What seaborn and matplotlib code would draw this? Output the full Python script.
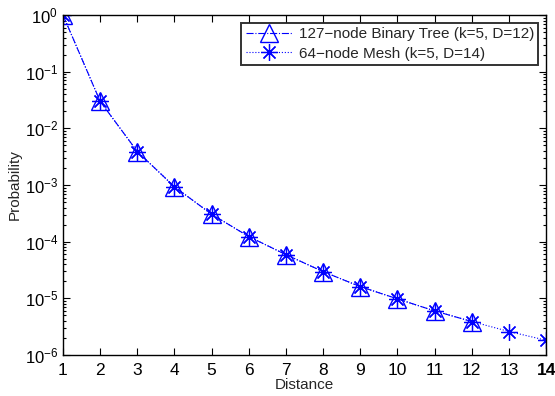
import numpy as np
import matplotlib
matplotlib.use("Agg")
import matplotlib.pyplot as plt
import seaborn as sns
import pandas as pd
from matplotlib.ticker import LogLocator, NullFormatter

sns.set_style("ticks")
plt.rcParams['font.family'] = ['Liberation Sans', 'DejaVu Sans']
plt.rcParams['mathtext.fontset'] = 'custom'
plt.rcParams['mathtext.rm'] = 'Liberation Sans'
plt.rcParams['mathtext.it'] = 'Liberation Sans'
plt.rcParams['mathtext.default'] = 'regular'

# values
tree_dist = [1, 2, 3, 4, 5, 6, 7, 8, 9, 10, 11, 12]
tree_prob = [1.0, 3.0e-2, 3.9e-3, 9.3e-4, 3.05e-4, 1.23e-4, 5.9e-5, 2.96e-5,
             1.61e-5, 9.8e-6, 6.0e-6, 3.9e-6]
mesh_dist = [1, 2, 3, 4, 5, 6, 7, 8, 9, 10, 11, 12, 13, 14]
mesh_prob = [1.0, 3.0e-2, 3.9e-3, 9.3e-4, 3.05e-4, 1.23e-4, 5.9e-5, 2.96e-5,
             1.61e-5, 9.8e-6, 6.0e-6, 3.9e-6, 2.6e-6, 1.82e-6]
x_ticks = list(range(1, 15))

tree_label = '127\u2212node Binary Tree (k=5, D=12)'
mesh_label = '64\u2212node Mesh (k=5, D=14)'

df_tree = pd.DataFrame({'Distance': tree_dist, 'Probability': tree_prob})
df_mesh = pd.DataFrame({'Distance': mesh_dist, 'Probability': mesh_prob})

fig = plt.figure(figsize=(5.55, 3.96), dpi=100)
ax = fig.add_axes([0.1135, 0.1035, 0.8705, 0.8585])

sns.lineplot(data=df_tree, x='Distance', y='Probability', ax=ax, color='blue',
             linestyle='-.', linewidth=0.8, marker='^', markersize=13,
             markerfacecolor='none', markeredgecolor='blue', markeredgewidth=1.0,
             label=tree_label)
sns.lineplot(data=df_mesh, x='Distance', y='Probability', ax=ax, color='blue',
             linestyle=':', linewidth=0.8, marker=(8, 2, 0), markersize=12,
             markeredgecolor='blue', markeredgewidth=0.9,
             label=mesh_label)
# center dots
ax.plot(tree_dist, tree_prob, linestyle='none', marker='.', markersize=3, color='blue')

ax.set_yscale('log')
ax.set_ylim(1e-6, 1)
ax.set_xlim(1, 14)
ax.set_xticks(x_ticks)
ax.set_xticklabels([str(i) for i in x_ticks])
ax.get_xticklabels()[-1].set_fontweight('bold')
ax.yaxis.set_major_locator(LogLocator(base=10, numticks=10))
ax.yaxis.set_minor_locator(LogLocator(base=10, subs=np.arange(2, 10), numticks=20))
ax.yaxis.set_minor_formatter(NullFormatter())

ax.tick_params(which='both', direction='in', top=True, right=True,
               colors='black', width=0.8)
ax.tick_params(axis='x', labelsize=12.5, pad=6)
ax.tick_params(axis='y', labelsize=12)
ax.tick_params(which='major', length=5)
ax.tick_params(which='minor', length=2.5)
for s in ax.spines.values():
    s.set_visible(True)
    s.set_linewidth(1.0)
    s.set_color('black')

ax.set_xlabel('Distance', fontsize=11, labelpad=0)
ax.set_ylabel('Probability', fontsize=11, labelpad=2)

leg = ax.legend(loc='upper right', fontsize=11, frameon=True, fancybox=False,
                edgecolor='black', borderpad=0.3, handlelength=3.0,
                labelspacing=0.35, borderaxespad=0.5, handletextpad=0.45)
leg.get_frame().set_linewidth(1.4)

fig.savefig('out.png', dpi=100)
